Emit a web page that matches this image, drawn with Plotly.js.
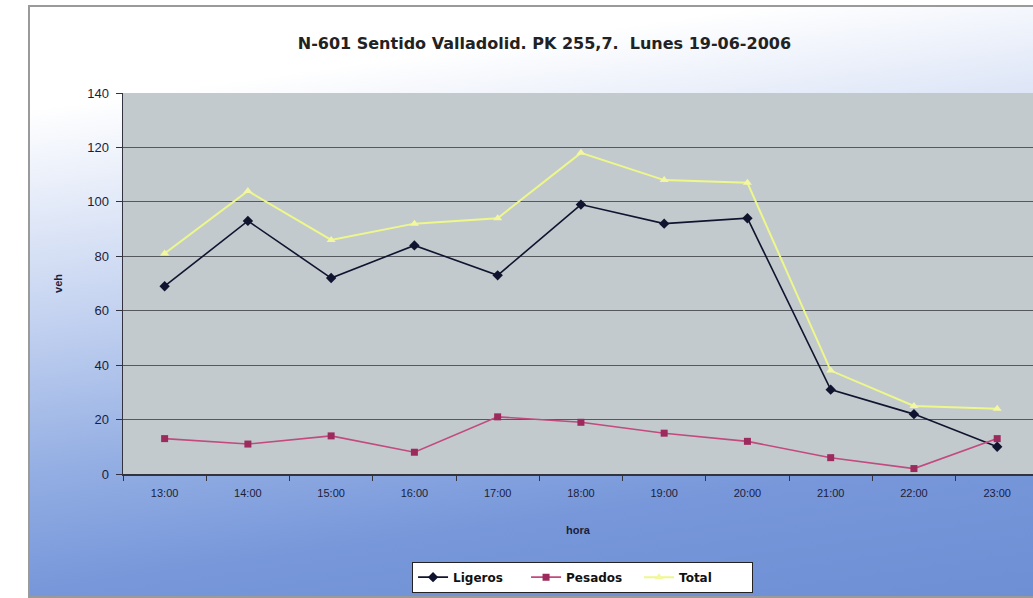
<!DOCTYPE html>
<html>
<head>
<meta charset="utf-8">
<script src="https://cdn.plot.ly/plotly-3.0.1.min.js"></script>
<style>
  html, body { margin: 0; padding: 0; background: #ffffff; }
  #wrap { position: relative; width: 1033px; height: 598px; overflow: hidden; }
  #bg { position: absolute; left: 28px; top: 5px; width: 1010px; height: 589px;
        border: 2px solid #9a9a9a;
        background: linear-gradient(172deg, #ffffff 0%, #ffffff 14%, #c6d4f1 42%, #93aee3 64%, #7797da 80%, #6f8fd5 100%); }
  #chart { position: absolute; left: 0; top: 0; width: 1033px; height: 598px; }
</style>
</head>
<body>
<div id="wrap">
  <div id="bg"></div>
  <div id="chart"></div>
</div>
<script>
const hours = ["13:00","14:00","15:00","16:00","17:00","18:00","19:00","20:00","21:00","22:00","23:00"];
const ligeros = [69, 93, 72, 84, 73, 99, 92, 94, 31, 22, 10];
const pesados = [13, 11, 14, 8, 21, 19, 15, 12, 6, 2, 13];
const total = [81, 104, 86, 92, 94, 118, 108, 107, 38, 25, 24];
const yTicks = [0, 20, 40, 60, 80, 100, 120, 140];

const font = "Arial, 'Liberation Sans', sans-serif";
const wide = "'DejaVu Sans', Arial, sans-serif";

const traces = [
  { x: hours, y: ligeros, name: "Ligeros", type: "scatter", mode: "lines+markers",
    line: { color: "#10142e", width: 1.6 },
    marker: { symbol: "diamond", size: 8, color: "#10142e" } },
  { x: hours, y: pesados, name: "Pesados", type: "scatter", mode: "lines+markers",
    line: { color: "#c24a7e", width: 1.6 },
    marker: { symbol: "square", size: 7, color: "#9c2a5c" } },
  { x: hours, y: total, name: "Total", type: "scatter", mode: "lines+markers",
    line: { color: "#eef78a", width: 2 },
    marker: { symbol: "triangle-up", size: 8, color: "#f2f7a0" } }
];

const layout = {
  width: 1033, height: 598,
  paper_bgcolor: "rgba(0,0,0,0)",
  plot_bgcolor: "#c2cace",
  margin: { l: 123, r: 0, t: 93, b: 124, pad: 0 },
  font: { family: font, color: "#1b1d3a", size: 11 },
  title: { text: "<b>N-601 Sentido Valladolid. PK 255,7.  Lunes 19-06-2006</b>",
           x: 0.527, xanchor: "center", y: 0.928, yanchor: "middle",
           font: { family: wide, size: 16, color: "#222222" } },
  xaxis: {
    type: "category", categoryorder: "array", categoryarray: hours,
    range: [-0.5, 10.43],
    showgrid: false, zeroline: false,
    showline: true, linecolor: "#333340", linewidth: 1.5,
    ticks: "outside", tickson: "boundaries", ticklen: 5, tickcolor: "#333340",
    ticklabelstandoff: 8,
    tickfont: { family: font, size: 11, color: "#1b1d3a" },
    title: { text: "<b>hora</b>", font: { family: font, size: 11, color: "#1b1d3a" }, standoff: 28 }
  },
  yaxis: {
    range: [0, 140], tickvals: yTicks, ticktext: yTicks.map(String),
    showgrid: true, gridcolor: "#55595e", gridwidth: 1.2,
    zeroline: false,
    showline: true, linecolor: "#333340", linewidth: 1.5,
    ticks: "outside", ticklen: 6, tickcolor: "#333340",
    ticklabelstandoff: 4,
    tickfont: { family: font, size: 13, color: "#1b1d3a" },
    title: { text: "<b>veh</b>", font: { family: font, size: 11, color: "#1b1d3a" }, standoff: 22 }
  },
  showlegend: true,
  legend: {
    orientation: "h", x: 0.505, xanchor: "center", y: -0.23, yanchor: "top",
    bgcolor: "#ffffff", bordercolor: "#222222", borderwidth: 1,
    font: { family: wide, size: 12, color: "#111111", weight: "bold" },
    itemwidth: 30, entrywidth: 68, entrywidthmode: "pixels"
  }
};

Plotly.newPlot("chart", traces, layout, { displayModeBar: false, staticPlot: true });
</script>
</body>
</html>
